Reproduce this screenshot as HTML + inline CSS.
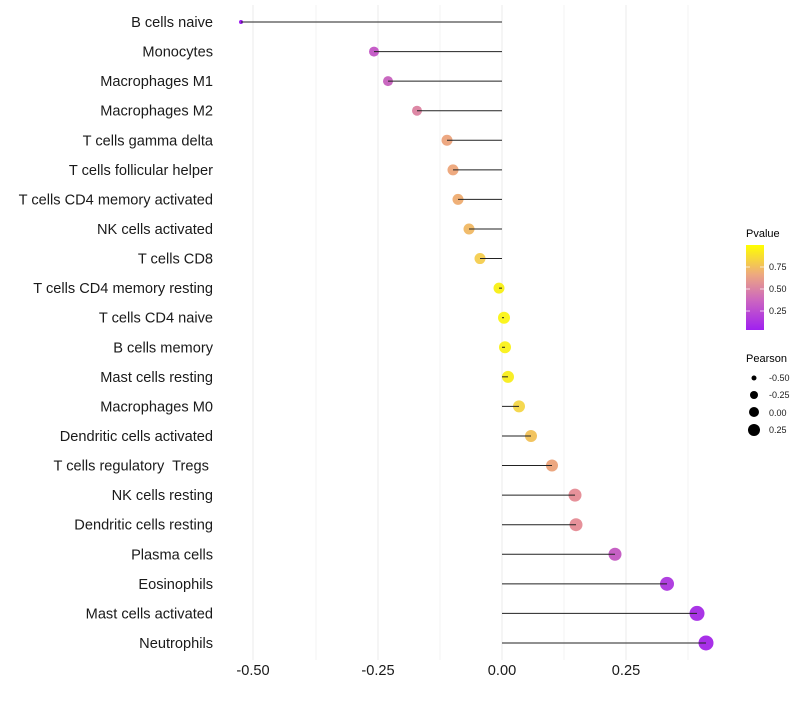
<!DOCTYPE html>
<html><head><meta charset="utf-8"><style>body{margin:0;background:#fff}</style></head><body>
<svg width="800" height="700" xmlns="http://www.w3.org/2000/svg" font-family="Liberation Sans, sans-serif">
<defs><linearGradient id="g" x1="0" y1="1" x2="0" y2="0">
<stop offset="0" stop-color="#a020f0"/><stop offset="0.35" stop-color="#cc66c0"/><stop offset="0.65" stop-color="#eda880"/><stop offset="1" stop-color="#ffff00"/></linearGradient></defs>
<g stroke="#ebebeb" stroke-width="1">
<line x1="253" y1="5" x2="253" y2="660"/><line x1="316" y1="5" x2="316" y2="660" stroke="#f3f3f3"/>
<line x1="378" y1="5" x2="378" y2="660"/><line x1="440" y1="5" x2="440" y2="660" stroke="#f3f3f3"/>
<line x1="502" y1="5" x2="502" y2="660"/><line x1="564" y1="5" x2="564" y2="660" stroke="#f3f3f3"/>
<line x1="626" y1="5" x2="626" y2="660"/><line x1="688" y1="5" x2="688" y2="660" stroke="#f3f3f3"/>
</g>
<g id="rows" font-size="14.6" fill="#1a1a1a" text-anchor="end"></g>
<g font-size="14.6" fill="#1a1a1a" text-anchor="middle">
<text x="253" y="675">-0.50</text><text x="378" y="675">-0.25</text><text x="502" y="675">0.00</text><text x="626" y="675">0.25</text>
</g>
<text x="746" y="237" font-size="11">Pvalue</text>
<rect x="746" y="245" width="18" height="85" fill="url(#g)"/>
<g stroke="#fff" stroke-width="1" opacity="0.7"><line x1="746" y1="267" x2="750" y2="267"/><line x1="760" y1="267" x2="764" y2="267"/><line x1="746" y1="289" x2="750" y2="289"/><line x1="760" y1="289" x2="764" y2="289"/><line x1="746" y1="311" x2="750" y2="311"/><line x1="760" y1="311" x2="764" y2="311"/></g>
<g font-size="9" fill="#1a1a1a"><text x="769" y="270">0.75</text><text x="769" y="292">0.50</text><text x="769" y="314">0.25</text>
<text x="769" y="381">-0.50</text><text x="769" y="398">-0.25</text><text x="769" y="416">0.00</text><text x="769" y="433">0.25</text></g>
<text x="746" y="362" font-size="11">Pearson</text>
<circle cx="754" cy="378" r="2.5"/><circle cx="754" cy="395" r="4"/><circle cx="754" cy="412" r="5"/><circle cx="754" cy="430" r="6"/>
</svg>
<script>
const d=[["B cells naive",241,2,"#9d1cf0"],["Monocytes",374,5,"#c65ec8"],["Macrophages M1",388,5,"#c968c0"],["Macrophages M2",417,5,"#dd88a5"],["T cells gamma delta",447,5.5,"#eda882"],["T cells follicular helper",453,5.5,"#eeaa80"],["T cells CD4 memory activated",458,5.5,"#efb078"],["NK cells activated",469,5.5,"#f1bc6c"],["T cells CD8",480,5.5,"#f5d058"],["T cells CD4 memory resting",499,5.5,"#f8f020"],["T cells CD4 naive",504,6,"#fbf520"],["B cells memory",505,6,"#faf224"],["Mast cells resting",508,6,"#f8ee28"],["Macrophages M0",519,6,"#f5d850"],["Dendritic cells activated",531,6,"#f2c460"],["T cells regulatory  Tregs ",552,6,"#eca780"],["NK cells resting",575,6.5,"#e6919a"],["Dendritic cells resting",576,6.5,"#e6919a"],["Plasma cells",615,6.5,"#c660c4"],["Eosinophils",667,7,"#b040e0"],["Mast cells activated",697,7.5,"#a935e6"],["Neutrophils",706,7.5,"#a830e8"]];
const ns="http://www.w3.org/2000/svg",svg=document.querySelector("svg"),g=document.getElementById("rows");
d.forEach((r,i)=>{const y=22+i*29.57;
const t=document.createElementNS(ns,"text");t.setAttribute("x",213);t.setAttribute("y",y+5);t.textContent=r[0];t.setAttribute("xml:space","preserve");t.style.whiteSpace="pre";g.appendChild(t);
const l=document.createElementNS(ns,"line");l.setAttribute("x1",r[1]);l.setAttribute("x2",502);l.setAttribute("y1",y);l.setAttribute("y2",y);l.setAttribute("stroke","#222");l.setAttribute("stroke-width","1");svg.appendChild(l);
const c=document.createElementNS(ns,"circle");c.setAttribute("cx",r[1]);c.setAttribute("cy",y);c.setAttribute("r",r[2]);c.setAttribute("fill",r[3]);svg.insertBefore(c,l);});
</script>
</body></html>
